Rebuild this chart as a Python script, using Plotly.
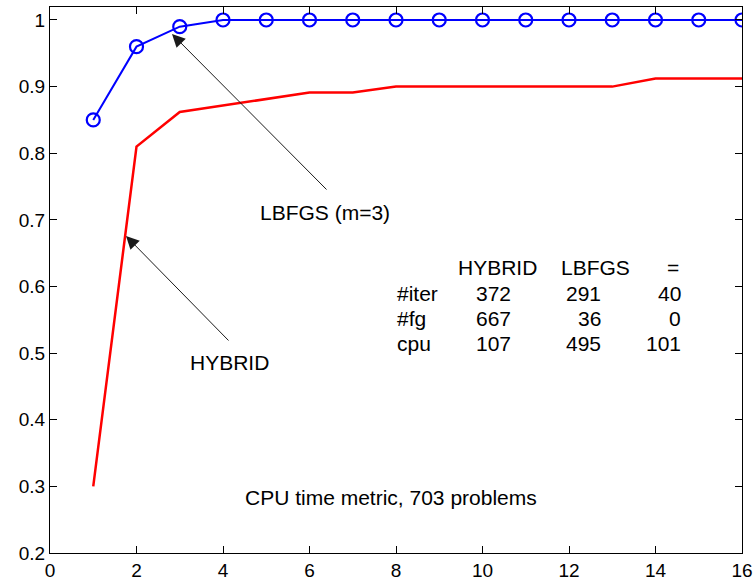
import plotly.graph_objects as go

# ---- data ----
x_vals = list(range(1, 17))
lbfgs = [0.85, 0.96, 0.99, 1.0, 1.0, 1.0, 1.0, 1.0, 1.0, 1.0, 1.0, 1.0, 1.0, 1.0, 1.0, 1.0]
hybrid = [0.30, 0.81, 0.862, 0.872, 0.881, 0.891, 0.891, 0.900, 0.900, 0.900, 0.900, 0.900, 0.900, 0.912, 0.912, 0.912]

x_ticks = [0, 2, 4, 6, 8, 10, 12, 14, 16]
y_ticks = [0.2, 0.3, 0.4, 0.5, 0.6, 0.7, 0.8, 0.9, 1.0]
y_ticktext = ["0.2", "0.3", "0.4", "0.5", "0.6", "0.7", "0.8", "0.9", "1"]

table_header = ["HYBRID", "LBFGS", "="]
table_rows = ["#iter", "#fg", "cpu"]
table_vals = [[372, 291, 40], [667, 36, 0], [107, 495, 101]]

W, H = 755, 582
L, R, T, B = 50, 13, 7, 29
XR = [0, 16]
YR = [0.2, 1.0195]

def px2x(px):
    return XR[0] + (px - L) / (W - L - R) * (XR[1] - XR[0])

def py2y(py):
    return YR[1] - (py - T) / (H - T - B) * (YR[1] - YR[0])

FONT = "Liberation Sans, Arial, sans-serif"
TXT = dict(size=21, family=FONT, color="#000000")

fig = go.Figure()
fig.add_trace(go.Scatter(x=x_vals, y=hybrid, mode="lines",
                         line=dict(color="#ff0000", width=2.5), name="HYBRID"))
fig.add_trace(go.Scatter(x=x_vals, y=lbfgs, mode="lines+markers",
                         line=dict(color="#0000ff", width=2),
                         marker=dict(symbol="circle-open", size=13,
                                     color="#0000ff", line=dict(width=2.2, color="#0000ff")),
                         name="LBFGS"))

ann = []
# arrows
ann.append(dict(x=px2x(172), y=py2y(34), ax=px2x(328), ay=py2y(191),
                xref="x", yref="y", axref="x", ayref="y", text="",
                showarrow=True, arrowhead=2, arrowsize=2.6, arrowwidth=1,
                arrowcolor="#1a1a1a"))
ann.append(dict(x=px2x(126), y=py2y(236), ax=px2x(230), ay=py2y(342),
                xref="x", yref="y", axref="x", ayref="y", text="",
                showarrow=True, arrowhead=2, arrowsize=2.6, arrowwidth=1,
                arrowcolor="#1a1a1a"))
ann.append(dict(x=px2x(325), y=py2y(212), xref="x", yref="y", text="LBFGS (m=3)",
                showarrow=False, font=TXT))
ann.append(dict(x=px2x(229), y=py2y(362), xref="x", yref="y", text="HYBRID",
                showarrow=False, font=TXT))
ann.append(dict(x=px2x(391), y=py2y(497), xref="x", yref="y",
                text="CPU time metric, 703 problems",
                showarrow=False, font=TXT))

# table
head_cx = [497, 595, 673]
col_right = [513, 603, 683]
row_y = [267, 293, 318, 343]
for i, h in enumerate(table_header):
    ann.append(dict(x=px2x(head_cx[i]), y=py2y(row_y[0]), xref="x", yref="y", text=h,
                    showarrow=False, xanchor="center", font=TXT))
for r, lab in enumerate(table_rows):
    ann.append(dict(x=px2x(395), y=py2y(row_y[r + 1]), xref="x", yref="y", text=lab,
                    showarrow=False, xanchor="left", font=TXT))
    for c, v in enumerate(table_vals[r]):
        ann.append(dict(x=px2x(col_right[c]), y=py2y(row_y[r + 1]), xref="x", yref="y",
                        text=str(v), showarrow=False, xanchor="right", font=TXT))

axis_common = dict(showgrid=False, zeroline=False, showline=True, linecolor="#000000",
                   linewidth=1, mirror="ticks", ticks="inside", ticklen=7,
                   tickcolor="#000000", tickwidth=1, automargin=False,
                   tickfont=dict(size=19, family=FONT, color="#000000"))

fig.update_layout(
    width=W, height=H,
    margin=dict(l=L, r=R, t=T, b=B, pad=0, autoexpand=False),
    paper_bgcolor="#ffffff", plot_bgcolor="#ffffff",
    showlegend=False,
    xaxis=dict(range=XR, tickvals=x_ticks, ticktext=[str(v) for v in x_ticks], **axis_common),
    yaxis=dict(range=YR, tickvals=y_ticks, ticktext=y_ticktext, **axis_common),
    annotations=ann,
)

fig.write_html("out.html", config={"displayModeBar": False},
               post_script="document.body.style.margin='0';document.body.style.overflow='hidden';")
